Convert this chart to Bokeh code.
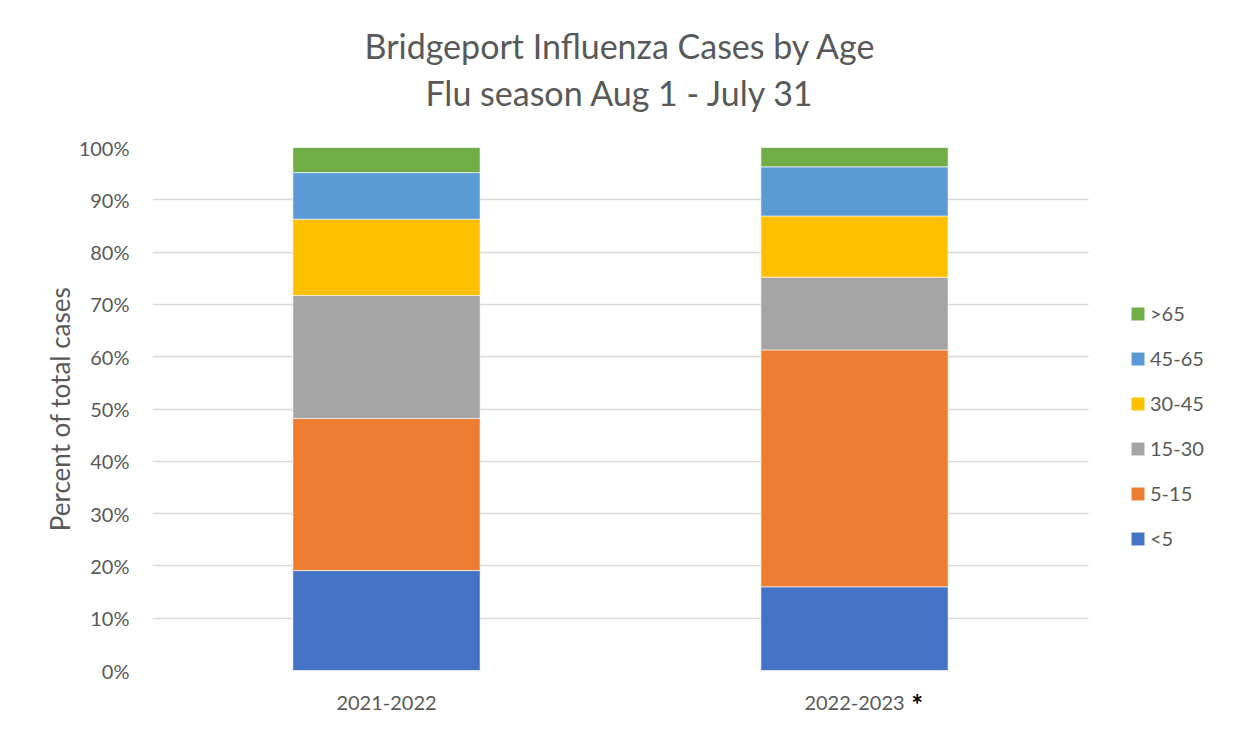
from bokeh.plotting import figure
from bokeh.models import (ColumnDataSource, Range1d, FixedTicker, NumeralTickFormatter,
                          Legend, LegendItem, LinearAxis, CustomJSTickFormatter, BoxAnnotation)
from bokeh.embed import file_html
from bokeh.resources import INLINE

seasons = ["2021-2022", "2022-2023"]
age_groups = ["<5", "5-15", "15-30", "30-45", "45-65", ">65"]
under5 = [19.1, 16.0]
age5_15 = [29.1, 45.3]
age15_30 = [23.5, 13.9]
age30_45 = [14.6, 11.7]
age45_65 = [8.9, 9.4]
over65 = [4.8, 3.7]
colors = ["#4472C4", "#ED7D31", "#A5A5A5", "#FFC000", "#5B9BD5", "#70AD47"]
y_ticks = [0, 10, 20, 30, 40, 50, 60, 70, 80, 90, 100]
footnote_mark = "*"

title_line1 = "Bridgeport Influenza Cases by Age"
title_line2 = "Flu season Aug 1 - July 31"
FONT = "Lato"
TXT = "#595959"

# layout constants (pixels)
W, H = 1234, 732
LEFT, TOP, BOTTOM = 152, 147, 62
SLOT = 468                      # pixel width of one season slot
X_END = (W - LEFT) / SLOT       # frame runs to the right edge (legend lives there)

positions = [i + 0.5 for i in range(len(seasons))]
data = {"x": positions}
for name, vals in zip(age_groups, [under5, age5_15, age15_30, age30_45, age45_65, over65]):
    data[name] = [v / 100.0 for v in vals]
source = ColumnDataSource(data)

p = figure(width=W, height=H, x_range=Range1d(0, X_END), y_range=Range1d(0, 1),
           output_backend="svg", toolbar_location=None, x_axis_location=None,
           min_border_left=LEFT, min_border_right=0, min_border_top=TOP,
           min_border_bottom=BOTTOM)

renderers = p.vbar_stack(age_groups, x="x", width=0.4, color=colors,
                         line_color="white", line_width=0.6, source=source)

p.outline_line_color = None
p.xgrid.grid_line_color = None
p.ygrid.grid_line_color = "#D9D9D9"
p.ygrid.grid_line_width = 1.3
p.ygrid.ticker = FixedTicker(ticks=[t / 100.0 for t in y_ticks])

# hide the grid beyond the plotting slots (legend area)
p.add_layout(BoxAnnotation(left=len(seasons), fill_color="white", fill_alpha=1.0,
                           line_alpha=0))

p.yaxis.ticker = FixedTicker(ticks=[t / 100.0 for t in y_ticks])
p.yaxis.formatter = NumeralTickFormatter(format="0%")
p.yaxis.axis_line_color = None
p.yaxis.major_tick_line_color = None
p.yaxis.minor_tick_line_color = None
p.yaxis.major_label_standoff = 17
p.yaxis.major_label_text_font = FONT
p.yaxis.major_label_text_font_size = "20px"
p.yaxis.major_label_text_color = TXT
p.yaxis.axis_label = "Percent of total cases"
p.yaxis.axis_label_text_font = FONT
p.yaxis.axis_label_text_font_size = "26px"
p.yaxis.axis_label_text_font_style = "normal"
p.yaxis.axis_label_text_color = TXT
p.yaxis.axis_label_standoff = 0

def plain_axis(**kw):
    return LinearAxis(axis_line_color=None, major_tick_line_color=None,
                      minor_tick_line_color=None, major_label_text_font=FONT, **kw)

season_axis = plain_axis(ticker=FixedTicker(ticks=positions),
                         formatter=CustomJSTickFormatter(args={"labels": seasons},
                                                         code="return labels[Math.round(tick - 0.5)];"),
                         major_label_standoff=19, major_label_text_font_size="20px",
                         major_label_text_color=TXT)
p.add_layout(season_axis, "below")

mark_axis = plain_axis(ticker=FixedTicker(ticks=[1.634]),
                       formatter=CustomJSTickFormatter(args={"m": footnote_mark}, code="return m;"),
                       major_label_standoff=-32, major_label_text_font_size="28px",
                       major_label_text_font_style="bold", major_label_text_color="black")
p.add_layout(mark_axis, "below")

# two-line chart title, centred over the plotting slots
title2_axis = plain_axis(ticker=FixedTicker(ticks=[len(seasons) / 2]),
                         formatter=CustomJSTickFormatter(args={"t": title_line2}, code="return t;"),
                         major_tick_out=0, minor_tick_out=0, major_label_standoff=35,
                         major_label_text_font_size="34px", major_label_text_color=TXT)
p.add_layout(title2_axis, "above")
title1_axis = plain_axis(ticker=FixedTicker(ticks=[len(seasons) / 2]),
                         formatter=CustomJSTickFormatter(args={"t": title_line1}, code="return t;"),
                         major_tick_out=0, minor_tick_out=0, major_label_standoff=3,
                         major_label_text_font_size="34px", major_label_text_color=TXT)
p.add_layout(title1_axis, "above")

legend = Legend(items=[LegendItem(label=g, renderers=[r]) for g, r in
                       reversed(list(zip(age_groups, renderers)))],
                location=(977, 120), orientation="vertical",
                glyph_width=17, glyph_height=17, label_standoff=4,
                label_height=20, spacing=21, padding=0, margin=0,
                border_line_color=None, background_fill_alpha=0,
                label_text_font=FONT, label_text_font_size="20px",
                label_text_color=TXT)
p.add_layout(legend, "center")

open("out.html", "w").write(file_html(p, INLINE))
